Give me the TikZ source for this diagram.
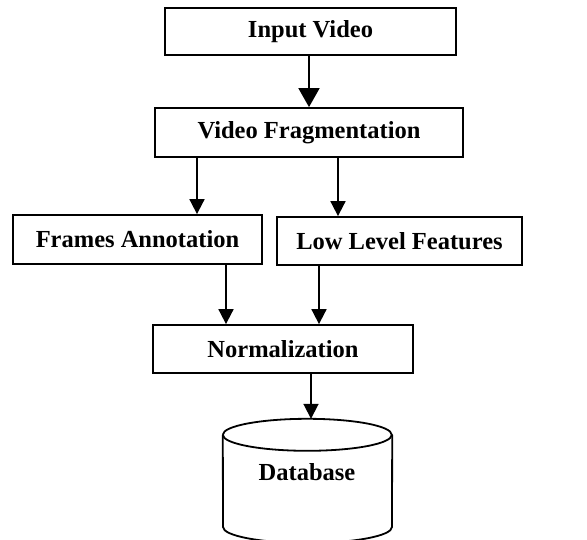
\documentclass[tikz,border=0pt]{standalone}
\usepackage{fontspec}
\setmainfont{Liberation Serif}
\usetikzlibrary{arrows.meta,calc}
\begin{document}
\begin{tikzpicture}[x=1pt,y=-1pt,
  txt/.style={font=\fontsize{24.5}{29}\selectfont\bfseries},
  box/.style={draw,line width=1.8pt,inner sep=0pt,txt},
  conn/.style={line width=1.8pt,-{Triangle[length=15pt,width=15pt]}},
  bigconn/.style={line width=1.8pt,-{Triangle[length=19pt,width=21pt]}}]
\clip (0,0) rectangle (587,539);
\useasboundingbox (0,0) rectangle (587,539);
\node[box,minimum width=291pt,minimum height=47pt] (in) at (310.5,31.5) {Input Video};
\node[box,minimum width=308pt,minimum height=49pt] (vf) at (309,132.5) {Video Fragmentation};
\node[box,minimum width=249pt,minimum height=49pt] (fa) at (137.5,239.5) {Frames Annotation};
\node[box,minimum width=245pt,minimum height=48pt] (ll) at (399.5,241) {Low Level Features};
\node[box,minimum width=260pt,minimum height=48pt] (nm) at (283,349) {Normalization};
\node[inner sep=0pt,minimum width=169pt,minimum height=124pt] (db) at (307.5,481) {};
\node[txt] (dbt) at (307,472) {Database};
% cylinder
\draw[line width=1.8pt] ($(db.north west)+(0,16)$) arc[start angle=180,end angle=-180,x radius=84.5pt,y radius=16pt];
\draw[line width=1.8pt] ($(db.north west)+(0,16)$) -- (223,527)
  arc[start angle=180,end angle=360,x radius=84.5pt,y radius=16pt] -- ($(db.north east)+(0,16)$);
% connectors
\draw[bigconn] (in.south -| 309,0) -- (vf.north -| 309,0);
\draw[conn] (vf.south -| 197,0) -- (fa.north -| 197,0);
\draw[conn] (vf.south -| 338,0) -- (ll.north -| 338,0);
\draw[conn] (fa.south -| 226,0) -- (nm.north -| 226,0);
\draw[conn] (ll.south -| 319,0) -- (nm.north -| 319,0);
\draw[conn] (nm.south -| 311,0) -- (db.north -| 311,0);
\end{tikzpicture}
\end{document}
